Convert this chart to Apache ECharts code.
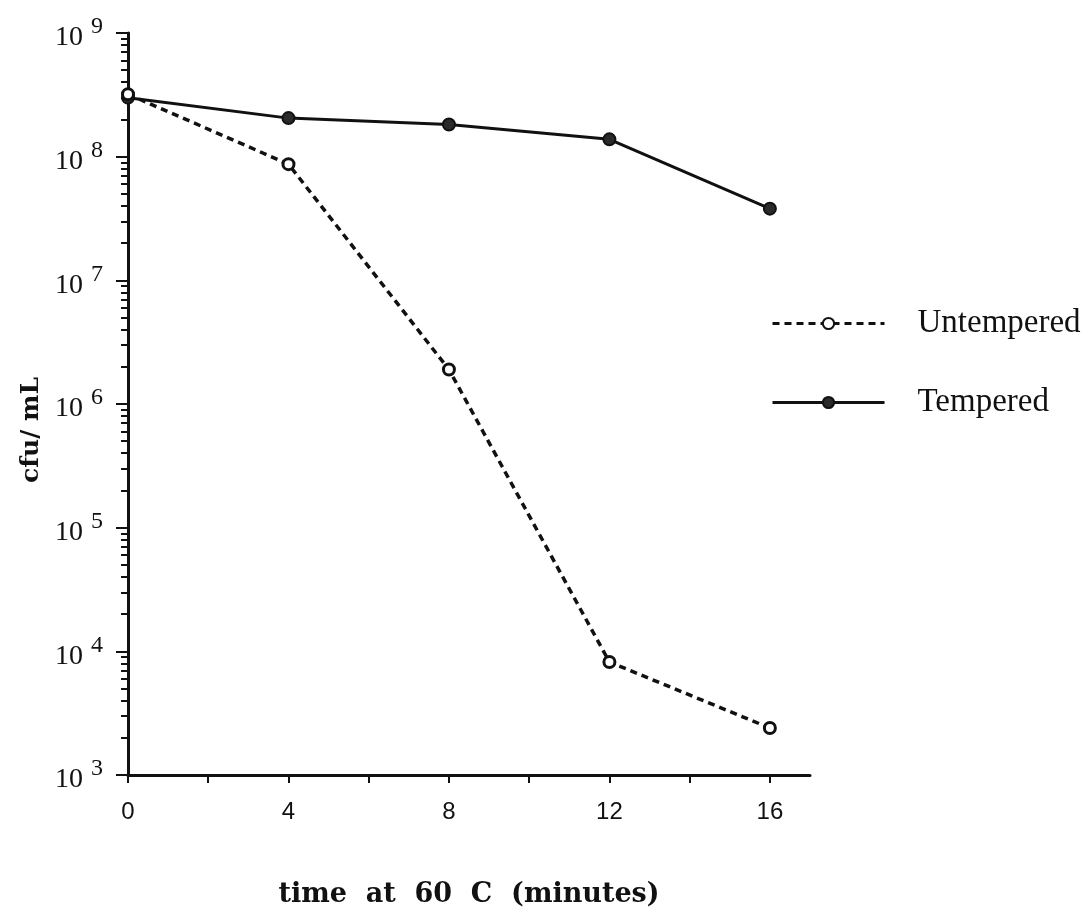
<!DOCTYPE html>
<html>
<head>
<meta charset="utf-8">
<script src="https://cdn.jsdelivr.net/npm/echarts@6/dist/echarts.min.js"></script>
<style>
  html, body { margin: 0; padding: 0; background: #ffffff; }
  #chart { width: 1090px; height: 913px; }
</style>
</head>
<body>
<div id="chart"></div>
<script>
// Survival counts (cfu/mL) after holding at 60 C
const minutes = [0, 4, 8, 12, 16];
const untempered = [3.2e8, 8.7e7, 1.9e6, 8.2e3, 2.4e3];
const tempered = [3.0e8, 2.05e8, 1.82e8, 1.38e8, 3.8e7];

// Axis ticks
const xTickValues = [0, 2, 4, 6, 8, 10, 12, 14, 16];
const xLabelValues = [0, 4, 8, 12, 16];
const decadeExponents = [3, 4, 5, 6, 7, 8, 9];
const minorMultipliers = [2, 3, 4, 5, 6, 7, 8, 9];

const yMajorTicks = decadeExponents.map(e => Math.pow(10, e));
const yMinorTicks = [];
decadeExponents.slice(0, -1).forEach(e => {
  minorMultipliers.forEach(m => yMinorTicks.push(m * Math.pow(10, e)));
});

const INK = '#111111';

const chart = echarts.init(document.getElementById('chart'), null, { renderer: 'canvas' });

chart.setOption({
  animation: false,
  backgroundColor: '#ffffff',
  grid: { left: 128, right: 280, top: 33, bottom: 128, containLabel: false },
  legend: {
    orient: 'vertical',
    left: 766,
    top: 302,
    itemWidth: 112,
    itemHeight: 14,
    itemGap: 46,
    lineStyle: { width: 3 },
    textStyle: {
      fontFamily: 'Liberation Serif',
      fontSize: 33,
      color: INK,
      padding: [0, 0, 0, 28]
    },
    data: ['Untempered', 'Tempered']
  },
  xAxis: {
    type: 'value',
    min: 0,
    max: 17,
    interval: 2,
    name: 'time  at  60  C  (minutes)',
    nameLocation: 'middle',
    nameGap: 106,
    nameTextStyle: {
      fontFamily: 'DejaVu Serif',
      fontWeight: 'bold',
      fontSize: 27,
      color: INK
    },
    axisLine: { show: true, lineStyle: { color: INK, width: 3 } },
    axisTick: {
      show: true,
      customValues: xTickValues,
      length: 8,
      lineStyle: { color: INK, width: 2 }
    },
    axisLabel: {
      customValues: xLabelValues,
      margin: 25,
      fontFamily: 'Liberation Sans',
      fontSize: 24,
      color: INK,
      formatter: v => (v % 4 === 0 && v <= 16 ? String(v) : '')
    },
    splitLine: { show: false }
  },
  yAxis: [
    {
      type: 'log',
      logBase: 10,
      min: 1e3,
      max: 1e9,
      position: 'left',
      name: 'cfu/ mL',
      nameLocation: 'middle',
      nameGap: 80,
      nameRotate: 90,
      nameTextStyle: {
        fontFamily: 'DejaVu Serif',
        fontWeight: 'bold',
        fontSize: 25,
        color: INK,
        padding: [0, 52, 0, 0]
      },
      axisLine: { show: true, lineStyle: { color: INK, width: 3 } },
      axisTick: {
        show: true,
        customValues: yMajorTicks,
        length: 12,
        lineStyle: { color: INK, width: 2 }
      },
      axisLabel: {
        customValues: yMajorTicks,
        margin: 25,
        formatter: v => '{b|10}{e|' + Math.round(Math.log10(v)) + '}',
        rich: {
          b: { fontFamily: 'Liberation Serif', fontSize: 28, color: INK, padding: [10, 0, 0, 0] },
          e: { fontFamily: 'Liberation Serif', fontSize: 24, color: INK, padding: [0, 0, 12, 8] }
        }
      },
      splitLine: { show: false }
    },
    {
      // shorter ticks for the 2..9 multiples inside each decade
      type: 'log',
      logBase: 10,
      min: 1e3,
      max: 1e9,
      position: 'left',
      offset: 0,
      axisLine: { show: false },
      axisTick: {
        show: true,
        customValues: yMinorTicks,
        length: 7,
        lineStyle: { color: INK, width: 2 }
      },
      axisLabel: { show: false },
      splitLine: { show: false }
    }
  ],
  series: [
    {
      name: 'Tempered',
      type: 'line',
      yAxisIndex: 0,
      data: minutes.map((t, i) => [t, tempered[i]]),
      symbol: 'circle',
      symbolSize: 12,
      itemStyle: { color: '#2a2a2a', borderColor: INK, borderWidth: 2 },
      lineStyle: { color: INK, width: 3, type: 'solid' },
      z: 2
    },
    {
      name: 'Untempered',
      type: 'line',
      yAxisIndex: 0,
      data: minutes.map((t, i) => [t, untempered[i]]),
      symbol: 'circle',
      symbolSize: 11,
      itemStyle: { color: '#ffffff', borderColor: INK, borderWidth: 3 },
      lineStyle: { color: INK, width: 3.5, type: [7, 5] },
      z: 3
    }
  ]
});
</script>
</body>
</html>
